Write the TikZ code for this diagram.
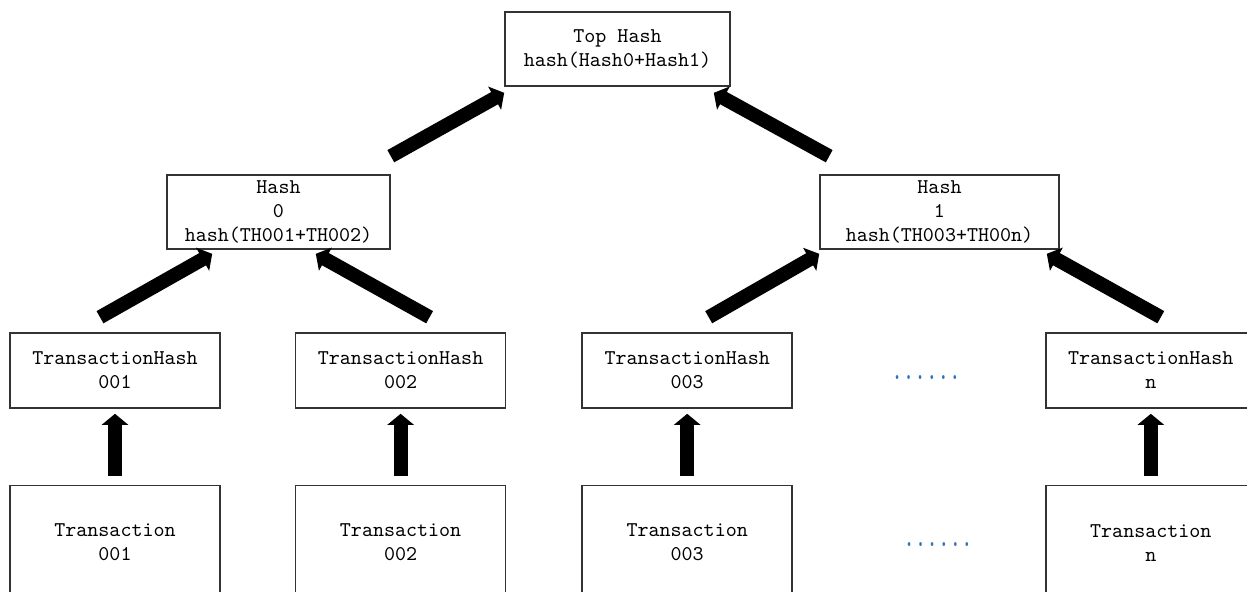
\documentclass[tikz,border=0pt]{standalone}
\usepackage{xcolor}
\usepackage{tikz}
\usetikzlibrary{arrows.meta, positioning, calc}
\definecolor{dotblue}{RGB}{46,117,182}

\begin{document}
\begin{tikzpicture}[
    x=0.5pt, y=-0.5pt,
    hashbox/.style={rectangle, draw=black!80, line width=0.8pt, align=center, inner sep=0pt, minimum height=37pt, font=\ttfamily\fontsize{10.5}{12}\selectfont},
    leafbox/.style={hashbox, minimum width=105pt, minimum height=37.5pt},
    txbox/.style={hashbox, minimum width=105pt, minimum height=57pt},
    ellipsisdots/.style={anchor=base, inner sep=0pt, text=dotblue, font=\ttfamily\fontsize{10.5}{12}\selectfont},
    bigarrow/.style={draw=black, line width=7pt, -{Triangle[width=13pt, length=5.5pt]}}
]
    \clip (0,0) rectangle (1247,591);

    \node[hashbox, minimum width=112.5pt] (top) at (617.5,49) {Top Hash\\hash(Hash0+Hash1)};
    \node[hashbox, minimum width=111.5pt] (h0) at (278.5,212) {Hash\\0\\hash(TH001+TH002)};
    \node[hashbox, minimum width=119.5pt] (h1) at (939.5,212) {Hash\\1\\hash(TH003+TH00n)};

    \node[leafbox] (th1) at (115,370.5) {TransactionHash\\001};
    \node[leafbox, right=37pt of th1] (th2) {TransactionHash\\002};
    \node[leafbox, right=37.5pt of th2] (th3) {TransactionHash\\003};
    \node[leafbox, right=126pt of th3] (thn) {TransactionHash\\n};

    \node[txbox, below=38pt of th1] (tx1) {Transaction\\001};
    \node[txbox, below=38pt of th2] (tx2) {Transaction\\002};
    \node[txbox, below=38pt of th3] (tx3) {Transaction\\003};
    \node[txbox, below=38pt of thn] (txn) {Transaction\\n};

    \node[ellipsisdots] (dotsth) at (926,379) {\scalebox{1.05}[1.5]{......}};
    \node[ellipsisdots] (dotstx) at (938,546) {\scalebox{1.05}[1.5]{......}};

    % Connectors
    \draw[bigarrow] ($(tx1.north)+(0,-9)$) -- ($(th1.south)+(0,5)$);
    \draw[bigarrow] ($(tx2.north)+(0,-9)$) -- ($(th2.south)+(0,5)$);
    \draw[bigarrow] ($(tx3.north)+(0,-9)$) -- ($(th3.south)+(0,5)$);
    \draw[bigarrow] ($(txn.north)+(0,-9)$) -- ($(thn.south)+(0,5)$);

    \draw[bigarrow] ($(th1.north)+(-15,-15)$) -- ($(h0.south west)+(46,4)$);
    \draw[bigarrow] ($(th2.north)+(29,-15)$) -- ($(h0.south east)+(-75,4)$);
    \draw[bigarrow] ($(th3.north)+(21.5,-15)$) -- ($(h1.south west)+(0,4)$);
    \draw[bigarrow] ($(thn.north)+(10,-15)$) -- ($(h1.south east)+(-13,4)$);

    \draw[bigarrow] ($(h0.north east)+(0,-18)$) -- ($(top.south west)+(0,6)$);
    \draw[bigarrow] ($(h1.north west)+(10,-18)$) -- ($(top.south east)+(-17,6)$);
\end{tikzpicture}
\end{document}
